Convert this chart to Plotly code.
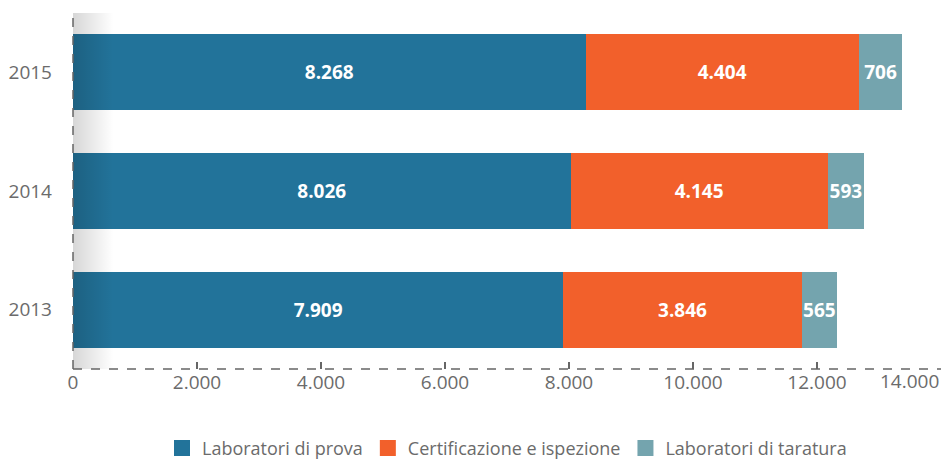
import plotly.graph_objects as go

years = ["2013", "2014", "2015"]
lab_prova = [7909, 8026, 8268]
cert_isp = [3846, 4145, 4404]
lab_taratura = [565, 593, 706]
series_names = ["Laboratori di prova", "Certificazione e ispezione", "Laboratori di taratura"]
colors = ["#22739a", "#f2602b", "#74a4ae"]
tick_vals = [0, 2000, 4000, 6000, 8000, 10000, 12000, 14000]
tick_text = ["0", "2.000", "4.000", "6.000", "8.000", "10.000", "12.000", ""]
last_tick_label = "14.000"

FONT = "Open Sans"
GREY = "#6b6b6b"

fig = go.Figure()
for vals, name, col in zip([lab_prova, cert_isp, lab_taratura], series_names, colors):
    fig.add_trace(go.Bar(
        y=years, x=vals, name=name, orientation="h",
        marker=dict(color=col, line=dict(width=0)),
        texttemplate="%{x:,}", textposition="inside", insidetextanchor="middle",
        textangle=0, constraintext="none",
        textfont=dict(family=FONT, size=19, color="white", weight="bold"),
        width=0.64, showlegend=False, hoverinfo="x+name",
    ))

# legend entries with larger squares
for name, col in zip(series_names, colors):
    fig.add_trace(go.Scatter(
        x=[None], y=[None], mode="markers", name=name,
        marker=dict(symbol="square", size=16, color=col),
        showlegend=True,
    ))

# soft left-edge shadow
fig.add_trace(go.Scatter(
    x=[0, 650, 650, 0, 0], y=[0, 0, 1, 1, 0], yaxis="y2",
    mode="lines", line=dict(width=0), fill="toself",
    fillgradient=dict(type="horizontal",
                      colorscale=[[0, "rgba(0,0,0,0.16)"], [1, "rgba(0,0,0,0)"]]),
    showlegend=False, hoverinfo="skip",
))

fig.update_layout(
    barmode="stack",
    width=942, height=453,
    margin=dict(l=65, r=9, t=5, b=92, autoexpand=False),
    paper_bgcolor="white", plot_bgcolor="white",
    separators=",.",
    font=dict(family=FONT, size=19, color=GREY),
    uniformtext=dict(minsize=18, mode="show"),
    xaxis=dict(range=[0, 14000], tickvals=tick_vals, ticktext=tick_text,
               showgrid=False, zeroline=False, showline=False, automargin=False,
               ticks="inside", ticklen=7, tickwidth=1.5, tickcolor="#666666",
               tickfont=dict(family=FONT, size=19, color=GREY)),
    yaxis=dict(type="category", categoryorder="array", categoryarray=years,
               range=[-0.5, 2.5], showgrid=False, zeroline=False, showline=False,
               ticks="", ticklabelstandoff=20, automargin=False,
               tickfont=dict(family=FONT, size=19, color=GREY)),
    yaxis2=dict(overlaying="y", range=[0, 1], visible=False),
    legend=dict(orientation="h", x=0.5, xanchor="center",
                yref="container", y=0.028, yanchor="middle",
                font=dict(family=FONT, size=18, color=GREY), itemsizing="trace",
                traceorder="normal"),
    annotations=[
        dict(x=tick_vals[-1], xref="x", y=0, yref="paper", yanchor="top",
             xanchor="right", yshift=3, text=last_tick_label, showarrow=False,
             font=dict(family=FONT, size=19, color=GREY)),
    ],
    shapes=[
        dict(type="line", xref="paper", yref="paper", x0=0, x1=0, y0=0, y1=1,
             line=dict(color="#666666", width=1.5, dash="dash")),
        dict(type="line", xref="paper", yref="paper", x0=0, x1=1, y0=0, y1=0,
             line=dict(color="#666666", width=1.5, dash="dash")),
    ],
)

fig.write_html("out.html")
